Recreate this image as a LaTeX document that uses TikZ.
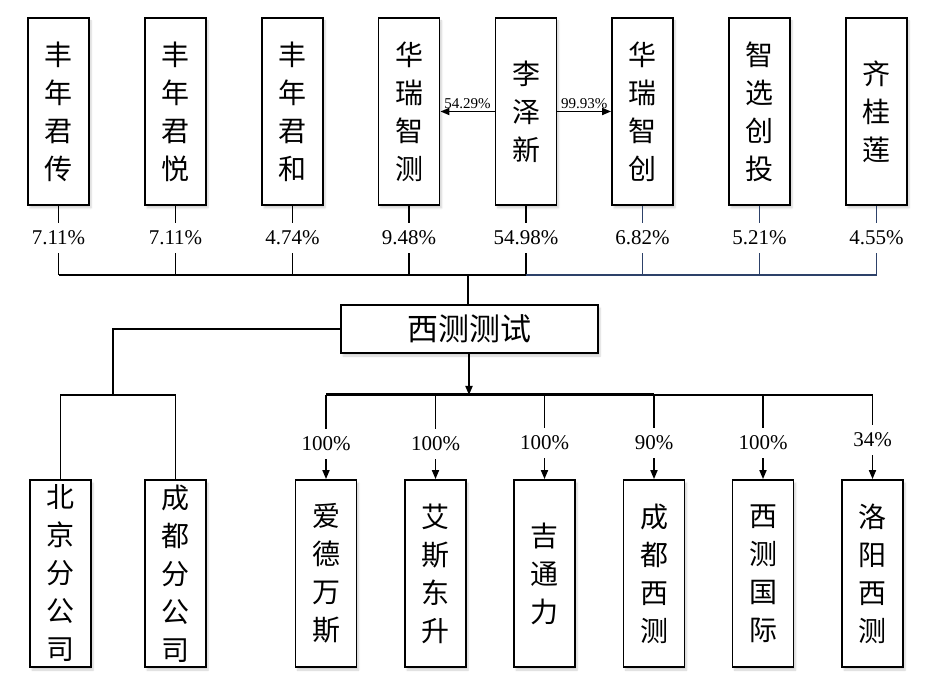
\documentclass[tikz,border=0pt]{standalone}
\usepackage{fontspec}
\setmainfont{Liberation Serif}
\newfontfamily\cjk{Noto Sans CJK SC}
\usetikzlibrary{arrows.meta,shadows.blur}
\definecolor{navyline}{RGB}{45,65,105}
\begin{document}
\begin{tikzpicture}[x=1pt,y=1pt,
  vbox/.style={draw=black,line width=1.8pt,fill=white,minimum width=61pt,minimum height=187pt,
    inner sep=0pt,align=center,font=\cjk\fontsize{28}{38}\selectfont,
    blur shadow={shadow blur steps=6,shadow opacity=18,shadow xshift=2pt,shadow yshift=-3pt}},
  hbox/.style={draw=black,line width=1.8pt,fill=white,minimum width=257pt,minimum height=48pt,
    inner sep=0pt,font=\cjk\fontsize{31}{34}\selectfont,
    blur shadow={shadow blur steps=6,shadow opacity=18,shadow xshift=2pt,shadow yshift=-3pt}},
  pct/.style={inner sep=0pt,minimum height=30pt,font=\fontsize{21}{22}\selectfont},
  spct/.style={inner sep=0pt,font=\fontsize{15}{16}\selectfont},
  conn/.style={line width=1.7pt},
  tip/.style={-{Triangle[length=9pt,width=7pt]}}
]
\useasboundingbox (0,0) rectangle (946,-684);
% top owners
\node[vbox] (o1) at (58.5,-111.5) {丰\\年\\君\\传};
\node[vbox] (o2) at (175.5,-111.5) {丰\\年\\君\\悦};
\node[vbox] (o3) at (292.5,-111.5) {丰\\年\\君\\和};
\node[vbox] (o4) at (409,-111.5) {华\\瑞\\智\\测};
\node[vbox] (o5) at (526,-111.5) {李\\泽\\新};
\node[vbox] (o6) at (642.5,-111.5) {华\\瑞\\智\\创};
\node[vbox] (o7) at (759.5,-111.5) {智\\选\\创\\投};
\node[vbox] (o8) at (876.5,-111.5) {齐\\桂\\莲};
% percent labels top
\node[pct] (p1) at (58.5,-238) {7.11\%};
\node[pct] (p2) at (175.5,-238) {7.11\%};
\node[pct] (p3) at (292.5,-238) {4.74\%};
\node[pct] (p4) at (409,-238) {9.48\%};
\node[pct] (p5) at (526,-238) {54.98\%};
\node[pct] (p6) at (642.5,-238) {6.82\%};
\node[pct] (p7) at (759.5,-238) {5.21\%};
\node[pct] (p8) at (876.5,-238) {4.55\%};
% center company
\node[hbox] (xc) at (469.5,-329) {西测测试};
\coordinate (topbus) at (468,-275);
\coordinate (lbus) at (113,-395);
\coordinate (botbus) at (469,-395);
% side arrows
\draw[conn,tip] (o5.west) -- (o4.east) node[spct,midway,above=2pt] {54.29\%};
\draw[conn,tip] (o5.east) -- (o6.west) node[spct,midway,above=2pt] {99.93\%};
% upper connectors
\foreach \i in {1,...,5}{
  \draw[conn] (o\i.south) -- (p\i.north);
  \draw[conn] (p\i.south) -- (p\i.south |- topbus);
}
\draw[conn] (p1.south |- topbus) -- (p5.south |- topbus);
\foreach \i in {6,7,8}{
  \draw[conn,navyline] (o\i.south) -- (p\i.north);
  \draw[conn,navyline] (p\i.south) -- (p\i.south |- topbus);
}
\draw[conn,navyline] (p5.south |- topbus) -- (p8.south |- topbus);
\draw[conn] (topbus) -- (topbus |- xc.north);
% branches
\node[vbox] (b1) at (60.5,-573.5) {北\\京\\分\\公\\司};
\node[vbox] (b2) at (175.5,-573.5) {成\\都\\分\\公\\司};
\draw[conn] (xc.west) -| (lbus);
\draw[conn] (b1.north) |- (lbus) -| (b2.north);
% subsidiaries
\node[vbox] (s1) at (326,-573.5) {爱\\德\\万\\斯};
\node[vbox] (s2) at (435.5,-573.5) {艾\\斯\\东\\升};
\node[vbox] (s3) at (544.5,-573.5) {吉\\通\\力};
\node[vbox] (s4) at (654,-573.5) {成\\都\\西\\测};
\node[vbox] (s5) at (763,-573.5) {西\\测\\国\\际};
\node[vbox] (s6) at (872.5,-573.5) {洛\\阳\\西\\测};
\node[pct] (q1) at (326,-444) {100\%};
\node[pct] (q2) at (435.5,-444) {100\%};
\node[pct] (q3) at (544.5,-443) {100\%};
\node[pct] (q4) at (654,-443) {90\%};
\node[pct] (q5) at (763,-443) {100\%};
\node[pct] (q6) at (872.5,-440) {34\%};
\draw[conn,tip] (xc.south -| botbus) -- (botbus);
\draw[line width=3pt] (q1.north |- botbus) -- (q4.north |- botbus);
\draw[conn] (q4.north |- botbus) -- (q6.north |- botbus);
\foreach \i in {1,...,6}{
  \draw[conn] (q\i.north |- botbus) -- (q\i.north);
  \draw[conn,tip] (q\i.south) -- (s\i.north);
}
\end{tikzpicture}
\end{document}
